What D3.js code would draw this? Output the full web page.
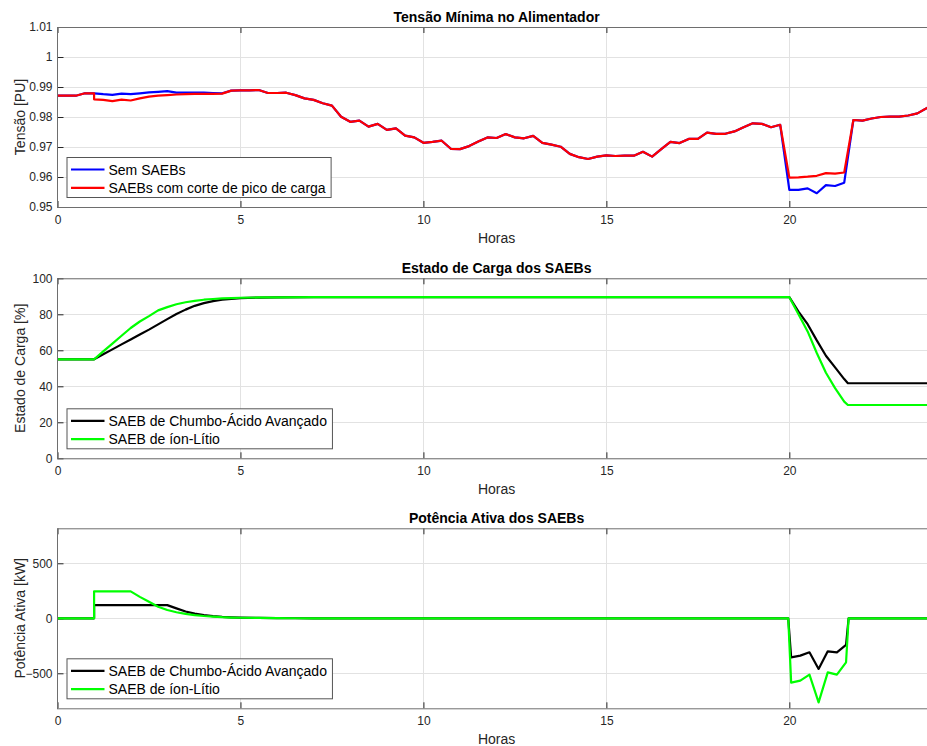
<!DOCTYPE html>
<html lang="pt-BR">
<head>
<meta charset="utf-8">
<title>SAEBs – Tensão, Estado de Carga e Potência</title>
<script src="https://cdn.jsdelivr.net/npm/d3@7/dist/d3.min.js"></script>
<style>
  html, body { margin: 0; padding: 0; background: #fff; }
  svg { display: block; font-family: "Liberation Sans", Arial, Helvetica, sans-serif; }
</style>
</head>
<body>
<svg id="fig" width="927" height="746"></svg>
<script>
// ---------- Dados ----------
// Tensão mínima no alimentador [PU], passo de 15 min
const horasTensao = [
  0, 0.25, 0.5, 0.75, 1, 1.25, 1.5, 1.75, 2, 2.25, 2.5, 2.75, 3, 3.25, 3.5, 3.75,
  4, 4.25, 4.5, 4.75, 5, 5.25, 5.5, 5.75, 6, 6.25, 6.5, 6.75, 7, 7.25, 7.5, 7.75,
  8, 8.25, 8.5, 8.75, 9, 9.25, 9.5, 9.75, 10, 10.25, 10.5, 10.75, 11, 11.25, 11.5, 11.75,
  12, 12.25, 12.5, 12.75, 13, 13.25, 13.5, 13.75, 14, 14.25, 14.5, 14.75, 15, 15.25, 15.5, 15.75,
  16, 16.25, 16.5, 16.75, 17, 17.25, 17.5, 17.75, 18, 18.25, 18.5, 18.75, 19, 19.25, 19.5, 19.75,
  20, 20.25, 20.5, 20.75, 21, 21.25, 21.5, 21.75, 22, 22.25, 22.5, 22.75, 23, 23.25, 23.5, 23.75, 24
];
const tensaoSemSAEB = [
  0.9871, 0.9871, 0.9871, 0.9879, 0.9879, 0.9876, 0.9874, 0.9878, 0.9876, 0.9879, 0.9882, 0.9884, 0.9886, 0.9881, 0.9881, 0.9881,
  0.9881, 0.9880, 0.9879, 0.9888, 0.9889, 0.9889, 0.9890, 0.9880, 0.9880, 0.9881, 0.9873, 0.9862, 0.9857, 0.9846, 0.9838, 0.9801,
  0.9784, 0.9788, 0.9768, 0.9777, 0.9757, 0.9762, 0.9738, 0.9732, 0.9714, 0.9717, 0.9721, 0.9694, 0.9693, 0.9703, 0.9718, 0.9732,
  0.9730, 0.9743, 0.9732, 0.9729, 0.9737, 0.9714, 0.9708, 0.9701, 0.9677, 0.9666, 0.9660, 0.9668, 0.9672, 0.9670, 0.9671, 0.9671,
  0.9684, 0.9668, 0.9693, 0.9717, 0.9713, 0.9727, 0.9727, 0.9748, 0.9744, 0.9744, 0.9752, 0.9766, 0.9779, 0.9777, 0.9766, 0.9774,
  0.9557, 0.9557, 0.9562, 0.9546, 0.9573, 0.9570, 0.9581, 0.9790, 0.9788, 0.9795, 0.9800, 0.9801, 0.9801, 0.9805, 0.9812, 0.9829, 0.9848
];
// Com SAEBs: o corte começa exatamente às 1 h (degrau), por isso a hora 1 aparece duas vezes
const horasTensaoSAEB = [
  0, 0.25, 0.5, 0.75, 1, 1, 1.25, 1.5, 1.75, 2, 2.25, 2.5, 2.75, 3, 3.25, 3.5, 3.75,
  4, 4.25, 4.5, 4.75, 5, 5.25, 5.5, 5.75, 6, 6.25, 6.5, 6.75, 7, 7.25, 7.5, 7.75,
  8, 8.25, 8.5, 8.75, 9, 9.25, 9.5, 9.75, 10, 10.25, 10.5, 10.75, 11, 11.25, 11.5, 11.75,
  12, 12.25, 12.5, 12.75, 13, 13.25, 13.5, 13.75, 14, 14.25, 14.5, 14.75, 15, 15.25, 15.5, 15.75,
  16, 16.25, 16.5, 16.75, 17, 17.25, 17.5, 17.75, 18, 18.25, 18.5, 18.75, 19, 19.25, 19.5, 19.75,
  20, 20.25, 20.5, 20.75, 21, 21.25, 21.5, 21.75, 22, 22.25, 22.5, 22.75, 23, 23.25, 23.5, 23.75, 24
];
const tensaoComSAEB = [
  0.9871, 0.9871, 0.9871, 0.9879, 0.9879, 0.9859, 0.9857, 0.9853, 0.9858, 0.9855, 0.9862, 0.9868, 0.9871, 0.9873, 0.9875, 0.9876, 0.9877,
  0.9877, 0.9877, 0.9878, 0.9888, 0.9889, 0.9889, 0.9890, 0.9880, 0.9880, 0.9881, 0.9873, 0.9862, 0.9857, 0.9846, 0.9838, 0.9801,
  0.9784, 0.9788, 0.9768, 0.9777, 0.9757, 0.9762, 0.9738, 0.9732, 0.9714, 0.9717, 0.9721, 0.9694, 0.9693, 0.9703, 0.9718, 0.9732,
  0.9730, 0.9743, 0.9732, 0.9729, 0.9737, 0.9714, 0.9708, 0.9701, 0.9677, 0.9666, 0.9660, 0.9668, 0.9672, 0.9670, 0.9671, 0.9671,
  0.9684, 0.9668, 0.9693, 0.9717, 0.9713, 0.9727, 0.9727, 0.9748, 0.9744, 0.9744, 0.9752, 0.9766, 0.9779, 0.9777, 0.9766, 0.9774,
  0.9598, 0.9599, 0.9601, 0.9604, 0.9613, 0.9611, 0.9615, 0.9790, 0.9788, 0.9795, 0.9800, 0.9801, 0.9801, 0.9805, 0.9812, 0.9829, 0.9848
];

// Estado de carga [%]
const horasSoc = [0, 1, 1.25, 1.5, 1.75, 2, 2.25, 2.5, 2.75, 3, 3.25, 3.5, 3.75, 4, 4.25, 4.5, 4.75, 5, 5.5, 6, 7,
                  20, 20.25, 20.5, 20.75, 21, 21.25, 21.5, 21.6, 24];
const socChumbo = [55, 55, 57.8, 60.5, 63.3, 66, 68.8, 71.5, 74.4, 77.3, 80.2, 82.6, 84.7, 86.2, 87.3, 88.1, 88.6, 89.0, 89.3, 89.45, 89.5,
                   89.5, 81.5, 74.5, 65.5, 57.0, 50.5, 44.0, 41.7, 41.7];
const socLitio  = [55, 55, 59.4, 63.7, 68.1, 72.4, 76.0, 79.0, 82.2, 84.0, 85.6, 86.7, 87.5, 88.1, 88.5, 88.8, 89.0, 89.2, 89.35, 89.45, 89.5,
                   89.5, 80.0, 70.5, 58.5, 47.5, 39.0, 31.5, 29.6, 29.6];

// Potência ativa [kW]
const horasPotChumbo = [0, 1, 1, 3, 3.25, 3.5, 3.75, 4, 4.25, 4.5, 4.75, 5, 5.5, 6, 6.5, 7,
                        19.97, 20.05, 20.3, 20.55, 20.8, 21.05, 21.3, 21.55, 21.62, 24];
const potChumbo = [0, 0, 120, 120, 90, 62, 42, 29, 20, 13, 9, 6, 3, 1.5, 0.5, 0,
                   0, -355, -339, -309, -460, -300, -309, -242, 0, 0];
const horasPotLitio = [0, 1, 1, 2, 2.25, 2.5, 2.75, 3, 3.25, 3.5, 3.75, 4, 4.25, 4.5, 4.75, 5, 5.5, 6, 6.5, 7,
                       19.97, 20.05, 20.3, 20.55, 20.8, 21.05, 21.3, 21.55, 21.62, 24];
const potLitio = [0, 0, 245, 245, 195, 150, 105, 75, 55, 40, 29, 21, 15, 10, 7, 5, 3, 1.5, 0.5, 0,
                  0, -585, -566, -512, -764, -491, -512, -400, 0, 0];

// Rótulos e marcações
const ticksHoras = [0, 5, 10, 15, 20];
const ticksTensao = [0.95, 0.96, 0.97, 0.98, 0.99, 1.0, 1.01];
const ticksSoc = [0, 20, 40, 60, 80, 100];
const ticksPot = [-500, 0, 500];
const nomesTensao = ["Sem SAEBs", "SAEBs com corte de pico de carga"];
const nomesSAEB = ["SAEB de Chumbo-Ácido Avançado", "SAEB de íon-Lítio"];

// ---------- Desenho ----------
const svg = d3.select("#fig");
const ALT = 180;                 // altura de cada área de plotagem
const x = d3.scaleLinear().domain([0, 24]).range([57.5, 935.7]);
const corEixo = "#262626";
const corTexto = "#262626";

function zip(h, v) { return h.map((t, i) => ({ h: t, v: v[i] })); }

function painel(cfg, idx) {
  const topo = cfg.topo, base = topo + ALT;
  const y = d3.scaleLinear().domain(cfg.dominio).range([base, topo]);
  const g = svg.append("g");

  const clipId = "clip" + idx;
  g.append("clipPath").attr("id", clipId)
    .append("rect").attr("x", x(0)).attr("y", topo).attr("width", x(24) - x(0)).attr("height", ALT);

  // grade
  const grade = g.append("g").attr("stroke", "#e2e2e2").attr("stroke-width", 1);
  grade.selectAll(".gx").data(ticksHoras.filter(t => t > 0)).join("line")
    .attr("x1", d => Math.round(x(d)) + 0.5).attr("x2", d => Math.round(x(d)) + 0.5)
    .attr("y1", topo).attr("y2", base);
  grade.selectAll(".gy").data(cfg.ticks).join("line")
    .attr("x1", x(0)).attr("x2", x(24))
    .attr("y1", d => Math.round(y(d)) + 0.5).attr("y2", d => Math.round(y(d)) + 0.5);

  // eixos (marcas para dentro)
  const fmt = cfg.formato;
  const eixoX = g.append("g").attr("transform", `translate(0,${base})`)
    .call(d3.axisBottom(x).tickValues(ticksHoras).tickSizeInner(-6).tickSizeOuter(0).tickPadding(8).tickFormat(d3.format("d")));
  const eixoXt = g.append("g").attr("transform", `translate(0,${topo})`)
    .call(d3.axisTop(x).tickValues(ticksHoras).tickSizeInner(-6).tickSizeOuter(0).tickFormat(""));
  const eixoY = g.append("g").attr("transform", `translate(${x(0)},0)`)
    .call(d3.axisLeft(y).tickValues(cfg.ticks).tickSizeInner(-6).tickSizeOuter(0).tickPadding(5).tickFormat(fmt));
  const eixoYd = g.append("g").attr("transform", `translate(${x(24)},0)`)
    .call(d3.axisRight(y).tickValues(cfg.ticks).tickSizeInner(-6).tickSizeOuter(0).tickFormat(""));
  [eixoX, eixoXt, eixoY, eixoYd].forEach(a => {
    a.select(".domain").remove();
    a.selectAll(".tick line").attr("stroke", corEixo).attr("stroke-width", 1);
    a.selectAll(".tick text").attr("fill", corTexto).attr("font-size", 12)
      .attr("font-family", "'Liberation Sans', Arial, Helvetica, sans-serif");
  });

  // séries
  const linha = d3.line().x(d => x(d.h)).y(d => y(d.v));
  const gs = g.append("g").attr("clip-path", `url(#${clipId})`);
  cfg.series.forEach(s => {
    gs.append("path").datum(zip(s.h, s.v))
      .attr("fill", "none").attr("stroke", s.cor).attr("stroke-width", 2.2)
      .attr("stroke-linejoin", "round").attr("stroke-linecap", "butt")
      .attr("d", linha);
  });

  // moldura
  g.append("rect").attr("x", x(0)).attr("y", topo + 0.5).attr("width", x(24) - x(0)).attr("height", ALT)
    .attr("fill", "none").attr("stroke", "#6e6e6e").attr("stroke-width", 1);

  // título
  g.append("text").attr("x", (x(0) + x(24)) / 2).attr("y", topo - 5.5)
    .attr("text-anchor", "middle").attr("font-weight", "bold").attr("font-size", 14).attr("fill", "#000")
    .text(cfg.titulo);
  // rótulo x
  g.append("text").attr("x", (x(0) + x(24)) / 2).attr("y", base + 35.5)
    .attr("text-anchor", "middle").attr("font-size", 14).attr("fill", corTexto).text("Horas");
  // rótulo y
  g.append("text").attr("transform", `translate(24.5,${topo + ALT / 2}) rotate(-90)`)
    .attr("text-anchor", "middle").attr("font-size", 14).attr("fill", corTexto).text(cfg.rotuloY);

  // legenda
  const lx = x(0) + 9, ly = base - 50;
  const leg = g.append("g");
  const caixa = leg.append("rect").attr("x", lx + 0.5).attr("y", ly + 0.5).attr("height", 40)
    .attr("fill", "#fff").attr("stroke", "#555").attr("stroke-width", 1);
  let maxW = 0;
  cfg.series.forEach((s, i) => {
    const cy = ly + 12.5 + i * 18.3;
    leg.append("line").attr("x1", lx + 4.5).attr("x2", lx + 38).attr("y1", cy).attr("y2", cy)
      .attr("stroke", s.cor).attr("stroke-width", 2.2);
    const t = leg.append("text").attr("x", lx + 42).attr("y", cy + 5)
      .attr("font-size", 14).attr("fill", "#000").text(s.nome);
    maxW = Math.max(maxW, t.node().getComputedTextLength());
  });
  caixa.attr("width", 42 + maxW + 5);
}

const paineis = [
  {
    topo: 27, dominio: [0.95, 1.01], ticks: ticksTensao,
    formato: d => d3.format(".2f")(d).replace(/\.?0+$/, ""),
    titulo: "Tensão Mínima no Alimentador", rotuloY: "Tensão [PU]",
    series: [
      { h: horasTensao, v: tensaoSemSAEB, cor: "#0000ff", nome: nomesTensao[0] },
      { h: horasTensaoSAEB, v: tensaoComSAEB, cor: "#ff0000", nome: nomesTensao[1] }
    ]
  },
  {
    topo: 278.3, dominio: [0, 100], ticks: ticksSoc, formato: d3.format("d"),
    titulo: "Estado de Carga dos SAEBs", rotuloY: "Estado de Carga [%]",
    series: [
      { h: horasSoc, v: socChumbo, cor: "#000000", nome: nomesSAEB[0] },
      { h: horasSoc, v: socLitio, cor: "#00ff00", nome: nomesSAEB[1] }
    ]
  },
  {
    topo: 528.3, dominio: [-818, 818], ticks: ticksPot, formato: d3.format("d"),
    titulo: "Potência Ativa dos SAEBs", rotuloY: "Potência Ativa [kW]",
    series: [
      { h: horasPotChumbo, v: potChumbo, cor: "#000000", nome: nomesSAEB[0] },
      { h: horasPotLitio, v: potLitio, cor: "#00ff00", nome: nomesSAEB[1] }
    ]
  }
];
paineis.forEach(painel);
</script>
</body>
</html>
